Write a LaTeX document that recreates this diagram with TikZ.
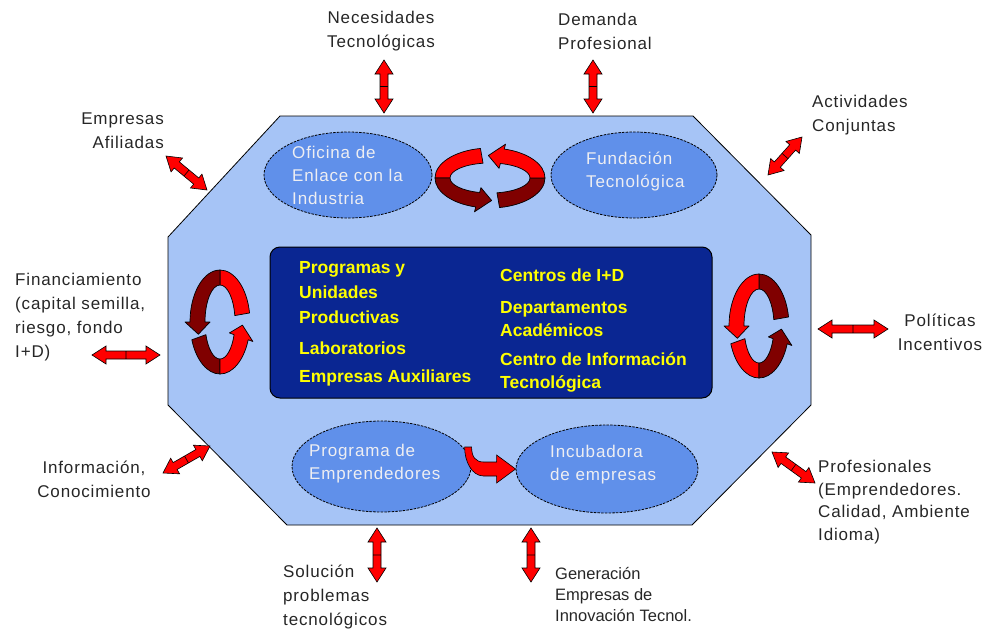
\documentclass[tikz,border=0pt]{standalone}
\usepackage{fontspec}
\setmainfont{Liberation Sans}
\newfontfamily\widesans[LetterSpace=5]{Liberation Sans}
\usetikzlibrary{calc,shapes.geometric}

\definecolor{octfill}{RGB}{166,196,246}
\definecolor{ellfill}{RGB}{96,144,234}
\definecolor{corefill}{RGB}{10,38,146}
\definecolor{coreyellow}{RGB}{255,255,0}
\definecolor{elltext}{RGB}{238,238,242}
\definecolor{arrred}{RGB}{255,0,0}
\definecolor{darkred}{RGB}{128,0,0}

% 环形箭头的带宽
\newcommand{\ringw}{15}
% 一段弧带
\newcommand{\ringband}[5]{%
  \pgfmathsetmacro\irx{#1-\ringw}\pgfmathsetmacro\iry{#2-\ringw}
  \filldraw[fill=#5, ringline] (#3:#1pt and #2pt) arc[start angle=#3, end angle=#4, x radius=#1pt, y radius=#2pt]
    -- (#4:\irx pt and \iry pt) arc[start angle=#4, end angle=#3, x radius=\irx pt, y radius=\iry pt] -- cycle;}
% 带箭头的弧带
\newcommand{\ringtip}[6]{%
  \pgfmathsetmacro\irx{#1-\ringw}\pgfmathsetmacro\iry{#2-\ringw}
  \pgfmathsetmacro\orx{#1+5}\pgfmathsetmacro\ory{#2+5}
  \pgfmathsetmacro\mrx{#1-\ringw/2}\pgfmathsetmacro\mry{#2-\ringw/2}
  \pgfmathsetmacro\hrx{\irx-5}\pgfmathsetmacro\hry{\iry-5}
  \filldraw[fill=#6, ringline] (#3:#1pt and #2pt) arc[start angle=#3, end angle=#4, x radius=#1pt, y radius=#2pt]
    -- (#4:\orx pt and \ory pt) -- (#5:\mrx pt and \mry pt) -- (#4:\hrx pt and \hry pt)
    -- (#4:\irx pt and \iry pt) arc[start angle=#4, end angle=#3, x radius=\irx pt, y radius=\iry pt] -- cycle;}

\begin{document}
\begin{tikzpicture}[x=1pt, y=-1pt,
    lbl/.style={inner sep=0pt, text=black!85, font=\widesans\fontsize{17}{24}\selectfont},
    ellbox/.style={ellipse, draw=black, fill=ellfill, line width=0.8pt, dash pattern=on 2.5pt off 1.2pt},
    elltxt/.style={inner sep=0pt, anchor=west, align=left, text=elltext, font=\widesans\fontsize{17}{23}\selectfont},
    coretxt/.style={inner sep=0pt, anchor=west, align=left, text=coreyellow, font=\bfseries\fontsize{17.5}{25}\selectfont},
    ringline/.style={draw=black, line width=0.7pt, line join=round},
    fatarrow/.style={fill=arrred, draw=black, line width=0.6pt, line join=miter,
      to path={(\tikztostart)
        -- ($(\tikztostart)!14pt!(\tikztotarget)!9pt!90:(\tikztotarget)$)
        -- ($(\tikztostart)!14pt!(\tikztotarget)!4pt!90:(\tikztotarget)$)
        -- ($(\tikztotarget)!14pt!(\tikztostart)!4pt!-90:(\tikztostart)$)
        -- ($(\tikztotarget)!14pt!(\tikztostart)!9pt!-90:(\tikztostart)$)
        -- (\tikztotarget)
        -- ($(\tikztotarget)!14pt!(\tikztostart)!9pt!90:(\tikztostart)$)
        -- ($(\tikztotarget)!14pt!(\tikztostart)!4pt!90:(\tikztostart)$)
        -- ($(\tikztostart)!14pt!(\tikztotarget)!4pt!-90:(\tikztotarget)$)
        -- ($(\tikztostart)!14pt!(\tikztotarget)!9pt!-90:(\tikztotarget)$)
        -- cycle
        ($(\tikztostart)!.5!(\tikztotarget)!4pt!90:(\tikztotarget)$)
        -- ($(\tikztostart)!.5!(\tikztotarget)!4pt!-90:(\tikztotarget)$)}}]
    \useasboundingbox (0,0) rectangle (986,630);

    % 八边形底板
    \filldraw[fill=octfill, draw=black, line width=0.8pt]
      (280,116) -- (693,116) -- (811,235) -- (811,405) -- (692,525)
      -- (287,525) -- (168,405) -- (168,237) -- cycle;

    % 中间的深蓝色框
    \node[draw=black, fill=corefill, line width=1pt, rounded corners=10pt,
          minimum width=442pt, minimum height=151pt] (core) at (491,322.5) {};
    \node[coretxt] (prog) at (299,293) {Programas y\\Unidades\\Productivas};
    \node[coretxt] (lab) at (299,348) {Laboratorios};
    \node[coretxt] (aux) at (299,378) {Empresas Auxiliares};
    \node[coretxt] (cid) at (500,275) {Centros de I+D};
    \node[coretxt, font=\bfseries\fontsize{17.5}{23}\selectfont] (dep) at (500,319.5) {Departamentos\\Académicos};
    \node[coretxt, font=\bfseries\fontsize{17.5}{23}\selectfont] (cit) at (500,372.5) {Centro de Información\\Tecnológica};

    % 四个椭圆
    \node[ellbox, minimum width=168pt, minimum height=86pt] (ofi) at (348,175) {};
    \node[ellbox, minimum width=166pt, minimum height=86pt] (fun) at (634,175) {};
    \node[ellbox, minimum width=179pt, minimum height=91pt] (emp) at (381.5,466.5) {};
    \node[ellbox, minimum width=182pt, minimum height=88pt] (inc) at (607,469) {};
    \node[elltxt] (ofitxt) at (292,175) {Oficina de\\Enlace con la\\Industria};
    \node[elltxt] (funtxt) at (586,171.5) {Fundación\\Tecnológica};
    \node[elltxt] (emptxt) at (309,463.5) {Programa de\\Emprendedores};
    \node[elltxt] (inctxt) at (550,464.5) {Incubadora\\de empresas};

    % 从 Emprendedores 到 Incubadora 的弯箭头
    \begin{scope}[shift={(inc.west)}]
      \filldraw[fill=arrred, draw=black, line width=0.6pt]
        (0,0) -- (-19,-14) -- (-19,-7) -- (-32,-7) .. controls (-40,-7) and (-44,-12) .. (-44,-22)
        -- (-51,-22) .. controls (-51,-8) and (-44,7) .. (-32,7) -- (-19,7) -- (-19,14) -- cycle;
    \end{scope}

    % 循环箭头：上、左、右
    \begin{scope}[shift={(490,178)}]
      \ringband{55}{30}{100}{180}{arrred}
      \ringtip{55}{30}{180}{255}{272}{darkred}
      \ringband{55}{30}{280}{360}{darkred}
      \ringtip{55}{30}{0}{75}{92}{arrred}
    \end{scope}
    \begin{scope}[shift={(220,322)}]
      \ringband{30}{52}{10}{90}{arrred}
      \ringtip{30}{52}{90}{180}{196}{darkred}
      \ringband{30}{52}{200}{270}{darkred}
      \ringtip{30}{52}{270}{340}{356}{arrred}
    \end{scope}
    \begin{scope}[shift={(759,326)}]
      \ringband{30}{52}{10}{90}{darkred}
      \ringtip{30}{52}{90}{180}{196}{arrred}
      \ringband{30}{52}{200}{270}{arrred}
      \ringtip{30}{52}{270}{340}{356}{darkred}
    \end{scope}

    % 外部标注
    \node[lbl, align=center] (nec) at (381,31) {Necesidades\\Tecnológicas};
    \node[lbl, anchor=west, align=left] (dem) at (558,31) {Demanda\\Profesional};
    \node[lbl, anchor=east, align=right] (afi) at (164,131) {Empresas\\Afiliadas};
    \node[lbl, anchor=west, align=left] (act) at (812,115) {Actividades\\Conjuntas};
    \node[lbl, anchor=west, align=left] (fin) at (15,317) {Financiamiento\\(capital semilla,\\riesgo, fondo\\I+D)};
    \node[lbl, align=center] (pol) at (940,332) {Políticas\\Incentivos};
    \node[lbl, align=center] (inf) at (94,479) {Información,\\Conocimiento};
    \node[lbl, anchor=west, align=left, font=\widesans\fontsize{17}{22.7}\selectfont] (pro) at (818,502) {Profesionales\\(Emprendedores.\\Calidad, Ambiente\\Idioma)};
    \node[lbl, anchor=west, align=left] (sol) at (283,597) {Solución\\problemas\\tecnológicos};
    \node[lbl, anchor=west, align=left, font=\fontsize{16.5}{21}\selectfont] (gen) at (555,594) {Generación\\Empresas de\\Innovación Tecnol.};

    % 双向粗箭头的端点
    \coordinate (nec1) at (384,60);  \coordinate (nec2) at (384,113);
    \coordinate (dem1) at (593,60);  \coordinate (dem2) at (593,113);
    \coordinate (afi1) at (166,156); \coordinate (afi2) at (207,190);
    \coordinate (act1) at (768,175); \coordinate (act2) at (802,137);
    \coordinate (fin1) at (92,355);  \coordinate (fin2) at (160,355);
    \coordinate (pol1) at (818,329); \coordinate (pol2) at (888,329);
    \coordinate (inf1) at (163,473); \coordinate (inf2) at (210,446);
    \coordinate (pro1) at (772,452); \coordinate (pro2) at (815,483);
    \coordinate (sol1) at (377,528); \coordinate (sol2) at (377,582);
    \coordinate (gen1) at (531,528); \coordinate (gen2) at (531,582);
    \foreach \a in {nec,dem,afi,act,fin,pol,inf,pro,sol,gen}
      \path[fatarrow] (\a1) to (\a2);
\end{tikzpicture}
\end{document}
